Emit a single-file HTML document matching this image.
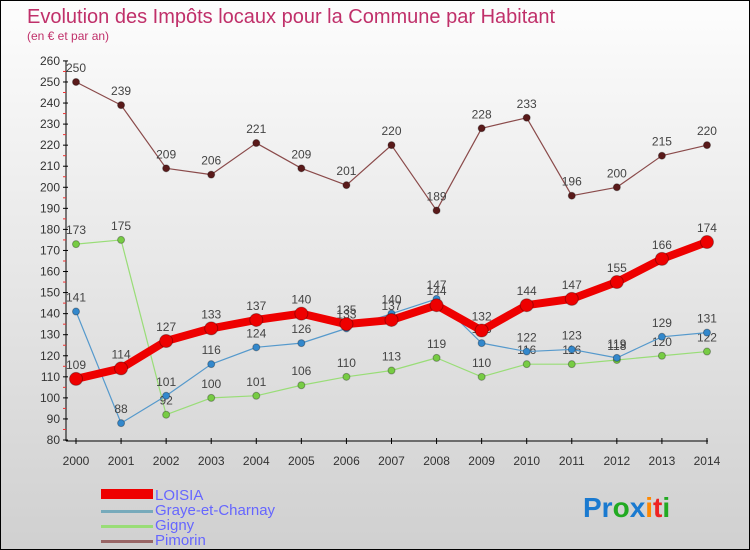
<!DOCTYPE html>
<html><head><meta charset="utf-8"><style>
body{margin:0}
#c{width:748px;height:548px;border:1px solid #000;background:linear-gradient(#fdfdfd,#d0d0d0);position:relative;font-family:"Liberation Sans",sans-serif;overflow:hidden}
text{font-family:"Liberation Sans",sans-serif}
</style></head><body>
<div id="c">
<svg id="s" width="748" height="548">
<text x="26" y="22" font-size="20" fill="#c0306a">Evolution des Impôts locaux pour la Commune par Habitant</text>
<text x="26" y="39" font-size="12" fill="#c0306a">(en € et par an)</text>
<g id="axes"></g><g id="series"></g>
<g>
<rect x="100" y="488" width="52" height="10" fill="#e00"/>
<text x="154" y="499" font-size="15" fill="#66f">LOISIA</text>
<rect x="100" y="509" width="52" height="3" fill="#7ab"/>
<text x="154" y="514" font-size="15" fill="#66f">Graye-et-Charnay</text>
<rect x="100" y="524" width="52" height="3" fill="#9d7"/>
<text x="154" y="529" font-size="15" fill="#66f">Gigny</text>
<rect x="100" y="539" width="52" height="3" fill="#966"/>
<text x="154" y="544" font-size="15" fill="#66f">Pimorin</text>
</g>
<text x="582" y="516" font-size="28" font-weight="bold"><tspan fill="#1a7ad0">Pr</tspan><tspan fill="#2a2">o</tspan><tspan fill="#1a7ad0">x</tspan><tspan fill="#f80">i</tspan><tspan fill="#e22">t</tspan><tspan fill="#2a2">i</tspan></text>
</svg></div>
<script>
const years=[2000,2001,2002,2003,2004,2005,2006,2007,2008,2009,2010,2011,2012,2013,2014];
const loisia=[109,114,127,133,137,140,135,137,144,132,144,147,155,166,174];
const graye=[141,88,101,116,124,126,133,140,147,126,122,123,119,129,131];
const gigny=[173,175,92,100,101,106,110,113,119,110,116,116,118,120,122];
const pimorin=[250,239,209,206,221,209,201,220,189,228,233,196,200,215,220];
const yTicks=[80,90,100,110,120,130,140,150,160,170,180,190,200,210,220,230,240,250,260];
const NS='http://www.w3.org/2000/svg';
const X=i=>75+i*45.07, Y=v=>439-(v-80)*2.106;
function mk(t,a,p){const e=document.createElementNS(NS,t);for(const k in a)e.setAttribute(k,a[k]);p.appendChild(e);return e;}
const ax=document.getElementById('axes'), sg=document.getElementById('series');
let l=mk('line',{x1:65,y1:Y(260),x2:65,y2:440,stroke:'#000'},ax);


l=mk('line',{x1:65,y1:440,x2:707,y2:440,stroke:'#000'},ax);


yTicks.forEach(v=>{
 mk('line',{x1:62,y1:Y(v),x2:67,y2:Y(v),stroke:'#000'},ax);
 if(v<260)mk('line',{x1:62,y1:Y(v+5),x2:65,y2:Y(v+5),stroke:'#e33'},ax);
 const t=mk('text',{x:59,y:Y(v)+4,'font-size':12,fill:'#333','text-anchor':'end'},ax);t.textContent=v;
 
 
});
years.forEach((y,i)=>{
 mk('line',{x1:X(i),y1:437,x2:X(i),y2:443,stroke:'#000'},ax);
 const t=mk('text',{x:X(i),y:464,'font-size':12,fill:'#333','text-anchor':'middle'},ax);t.textContent=y;
 
 
});
function series(d,name,col,w,r,dot){
 const g=mk('g',{},sg);
 
 
 mk('polyline',{points:d.map((v,i)=>X(i)+','+Y(v)).join(' '),fill:'none',stroke:col,'stroke-width':w,'stroke-linejoin':'round'},g);
 d.forEach((v,i)=>{
  const c=mk('circle',{cx:X(i),cy:Y(v),r:r,fill:dot,stroke:'rgba(0,0,0,0.3)'},g);
  
  
  const t=mk('text',{x:X(i),y:Y(v)-10,'font-size':12,fill:'#444','text-anchor':'middle'},g);t.textContent=v;
  
  
 });
}
series(pimorin,'pimorin','#8a4a4a',1.2,3.5,'#5a1a1a');
series(gigny,'gigny','#9d7',1.2,3.5,'#7c4');
series(graye,'graye','#59c',1.2,3.5,'#38c');
series(loisia,'loisia','#e00',8,6.5,'#e00');
</script>
</body></html>
